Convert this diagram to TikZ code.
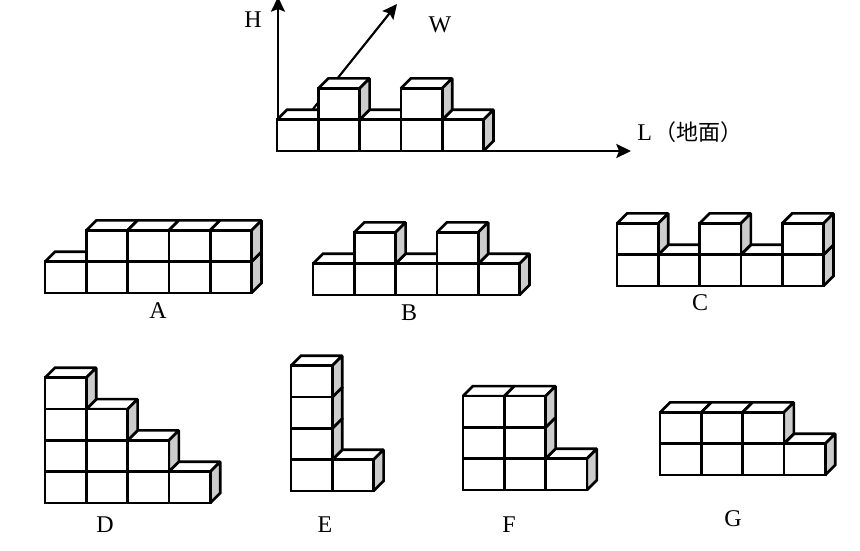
\documentclass[tikz,border=0pt]{standalone}
\usepackage{fontspec}
\setmainfont{Liberation Serif}
\newfontfamily\cjkfont{Noto Sans CJK SC}
\usetikzlibrary{arrows.meta}

% one block, column #1 and row #2 of the pile in the current scope
\newcommand{\blockcube}[2]{
  \begin{scope}[shift={({#1*41.3},{-#2*31.3})}]
    \draw[cubeline,fill=white] (0,-31.3) -- (10,-41.3) -- (51.3,-41.3) -- (41.3,-31.3) -- cycle;
    \draw[cubeline,fill=gray!40] (41.3,0) -- (51.3,-10) -- (51.3,-41.3) -- (41.3,-31.3) -- cycle;
    \draw[cubeline,fill=white] (0,0) rectangle (41.3,-31.3);
  \end{scope}
}

\tikzset{
  cubeline/.style={line width=2pt,line join=miter,miter limit=2},
  axisline/.style={line width=1.6pt,-{Stealth[length=11pt,width=10.5pt,inset=2pt]}},
  pilelabel/.style={font=\fontsize{18}{18}\selectfont,inner sep=0pt}
}

\begin{document}
\begin{tikzpicture}[x=0.75pt,y=-0.75pt]
  \useasboundingbox (0,0) rectangle (860,550);

  % axes
  \coordinate (origin) at (278,151);
  \coordinate (Htip) at (278,-3);
  \coordinate (Ltip) at (631,151);
  \coordinate (Wfoot) at (313,109);
  \coordinate (Wtip) at (397,4);
  \draw[axisline] (origin) -- (Htip);
  \draw[axisline] (origin) -- (Ltip);
  \draw[axisline] (Wfoot) -- (Wtip);

  % pile on the ground
  \begin{scope}[shift={(277,151)}]
    \foreach \c/\r in {0/0,1/0,2/0,3/0,4/0,1/1,3/1} {\blockcube{\c}{\r}}
  \end{scope}

  % A
  \begin{scope}[shift={(45,293)}]
    \foreach \c/\r in {0/0,1/0,2/0,3/0,4/0,1/1,2/1,3/1,4/1} {\blockcube{\c}{\r}}
  \end{scope}
  % B
  \begin{scope}[shift={(313,295)}]
    \foreach \c/\r in {0/0,1/0,2/0,3/0,4/0,1/1,3/1} {\blockcube{\c}{\r}}
  \end{scope}
  % C
  \begin{scope}[shift={(617,286)}]
    \foreach \c/\r in {0/0,1/0,2/0,3/0,4/0,0/1,2/1,4/1} {\blockcube{\c}{\r}}
  \end{scope}
  % D
  \begin{scope}[shift={(45,503)}]
    \foreach \c/\r in {0/0,1/0,2/0,3/0,0/1,1/1,2/1,0/2,1/2,0/3} {\blockcube{\c}{\r}}
  \end{scope}
  % E
  \begin{scope}[shift={(291,491)}]
    \foreach \c/\r in {0/0,1/0,0/1,0/2,0/3} {\blockcube{\c}{\r}}
  \end{scope}
  % F
  \begin{scope}[shift={(463,490)}]
    \foreach \c/\r in {0/0,1/0,2/0,0/1,1/1,0/2,1/2} {\blockcube{\c}{\r}}
  \end{scope}
  % G
  \begin{scope}[shift={(660,475)}]
    \foreach \c/\r in {0/0,1/0,2/0,3/0,0/1,1/1,2/1} {\blockcube{\c}{\r}}
  \end{scope}

  % labels
  \node[pilelabel] (labelH) at (253,20) {H};
  \node[pilelabel] (labelW) at (440,25) {W};
  \node[pilelabel,anchor=west] (labelL) at (637,132) {L\hspace{2pt}{\cjkfont\fontsize{16.5}{16.5}\selectfont （地面）}};
  \node[pilelabel] (labelA) at (158,311) {A};
  \node[pilelabel] (labelB) at (409,313) {B};
  \node[pilelabel] (labelC) at (700,303) {C};
  \node[pilelabel] (labelD) at (105,525) {D};
  \node[pilelabel] (labelE) at (325,525) {E};
  \node[pilelabel] (labelF) at (509,525) {F};
  \node[pilelabel] (labelG) at (733,519) {G};
\end{tikzpicture}
\end{document}
